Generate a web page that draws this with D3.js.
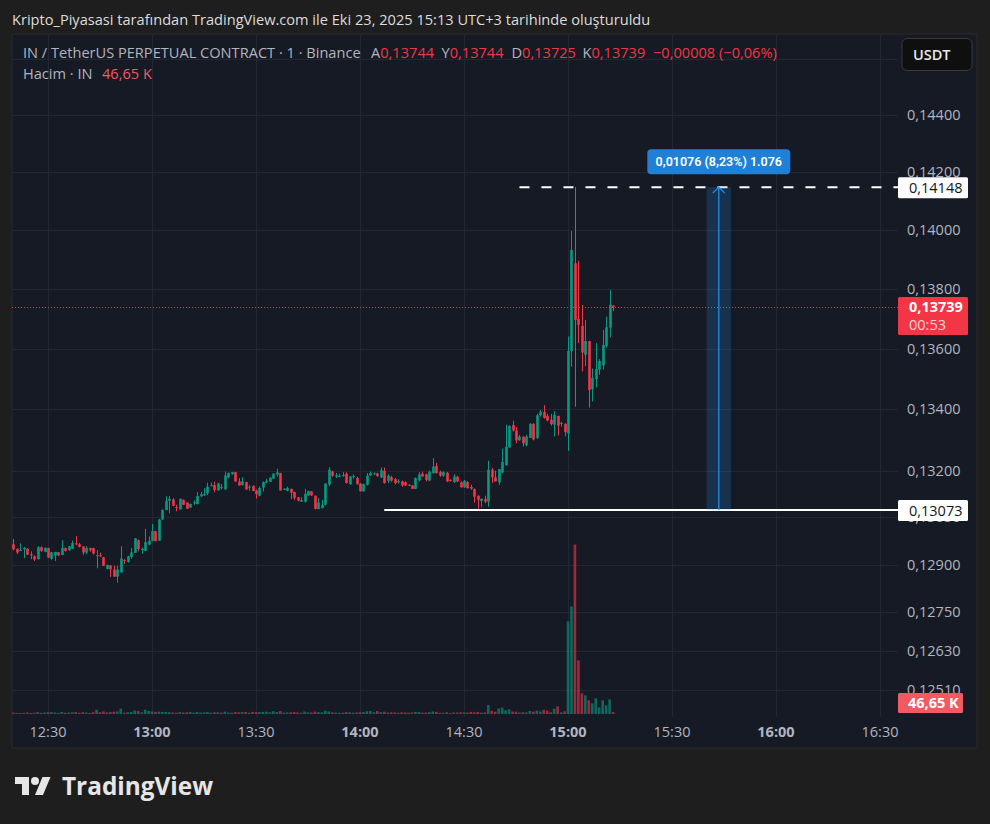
<!DOCTYPE html>
<html><head><meta charset="utf-8">
<script src="https://cdn.jsdelivr.net/npm/d3@7"></script>
<style>
html,body{margin:0;padding:0;background:#1e1e1e;}
svg{display:block;font-family:"Open Sans","Noto Sans",Arial,sans-serif;}
</style>
</head><body>
<svg id="chart" width="990" height="824"></svg>
<script>
// ---------------- DATA ----------------
const firstBarTime = "2025-10-23 12:20";   // 1-minute bars
// [open, high, low, close]
const ohlc = [
[0.12964,0.12981,0.12945,0.12948],[0.12950,0.12951,0.12933,0.12938],[0.12943,0.12967,0.12943,0.12946],[0.12948,0.12955,0.12920,0.12953],
[0.12950,0.12952,0.12931,0.12931],[0.12932,0.12942,0.12917,0.12930],[0.12926,0.12929,0.12911,0.12916],[0.12917,0.12958,0.12916,0.12955],
[0.12955,0.12957,0.12940,0.12943],[0.12940,0.12954,0.12939,0.12953],[0.12952,0.12953,0.12921,0.12922],[0.12918,0.12939,0.12915,0.12939],
[0.12928,0.12940,0.12911,0.12940],[0.12939,0.12939,0.12927,0.12929],[0.12930,0.12977,0.12930,0.12952],[0.12952,0.12954,0.12941,0.12943],
[0.12945,0.12959,0.12944,0.12958],[0.12950,0.12976,0.12950,0.12968],[0.12967,0.12990,0.12961,0.12964],[0.12964,0.12968,0.12954,0.12956],
[0.12957,0.12958,0.12931,0.12938],[0.12938,0.12958,0.12933,0.12952],[0.12952,0.12953,0.12941,0.12945],[0.12952,0.12953,0.12932,0.12935],
[0.12929,0.12946,0.12888,0.12930],[0.12929,0.12938,0.12924,0.12926],[0.12923,0.12924,0.12896,0.12896],[0.12886,0.12899,0.12885,0.12899],
[0.12897,0.12898,0.12861,0.12885],[0.12884,0.12896,0.12861,0.12862],[0.12862,0.12897,0.12843,0.12884],[0.12875,0.12958,0.12875,0.12919],
[0.12914,0.12917,0.12902,0.12912],[0.12908,0.12928,0.12906,0.12926],[0.12924,0.12952,0.12918,0.12938],[0.12937,0.12984,0.12937,0.12983],
[0.12977,0.12979,0.12942,0.12949],[0.12947,0.12954,0.12934,0.12949],[0.12943,0.13013,0.12943,0.12971],[0.12963,0.12989,0.12961,0.12975],
[0.12974,0.13029,0.12974,0.13006],[0.13006,0.13007,0.12974,0.12974],[0.12975,0.13045,0.12975,0.13043],[0.13043,0.13075,0.13042,0.13074],
[0.13073,0.13117,0.13073,0.13103],[0.13103,0.13118,0.13063,0.13109],[0.13107,0.13111,0.13085,0.13087],[0.13083,0.13090,0.13069,0.13080],
[0.13075,0.13110,0.13075,0.13109],[0.13106,0.13107,0.13089,0.13090],[0.13097,0.13098,0.13077,0.13077],[0.13081,0.13093,0.13080,0.13093],
[0.13096,0.13104,0.13090,0.13098],[0.13092,0.13131,0.13092,0.13118],[0.13117,0.13131,0.13115,0.13124],[0.13122,0.13143,0.13118,0.13124],
[0.13126,0.13161,0.13121,0.13148],[0.13151,0.13161,0.13149,0.13153],[0.13153,0.13165,0.13130,0.13138],[0.13136,0.13161,0.13136,0.13158],
[0.13147,0.13156,0.13139,0.13144],[0.13139,0.13197,0.13139,0.13184],[0.13178,0.13194,0.13175,0.13192],[0.13188,0.13196,0.13187,0.13195],
[0.13195,0.13196,0.13164,0.13165],[0.13165,0.13176,0.13152,0.13152],[0.13153,0.13178,0.13152,0.13165],[0.13163,0.13164,0.13139,0.13139],
[0.13147,0.13153,0.13135,0.13148],[0.13151,0.13152,0.13134,0.13134],[0.13136,0.13139,0.13110,0.13124],[0.13119,0.13149,0.13117,0.13144],
[0.13145,0.13165,0.13133,0.13163],[0.13161,0.13173,0.13159,0.13166],[0.13164,0.13178,0.13163,0.13177],[0.13174,0.13191,0.13173,0.13190],
[0.13187,0.13206,0.13181,0.13194],[0.13192,0.13193,0.13136,0.13136],[0.13139,0.13143,0.13138,0.13141],[0.13135,0.13148,0.13133,0.13144],
[0.13141,0.13142,0.13108,0.13129],[0.13131,0.13132,0.13106,0.13112],[0.13114,0.13115,0.13101,0.13103],[0.13100,0.13114,0.13099,0.13105],
[0.13100,0.13141,0.13097,0.13125],[0.13120,0.13135,0.13119,0.13134],[0.13133,0.13134,0.13119,0.13120],[0.13119,0.13120,0.13075,0.13077],
[0.13076,0.13111,0.13076,0.13097],[0.13079,0.13106,0.13079,0.13090],[0.13090,0.13160,0.13088,0.13158],[0.13155,0.13211,0.13150,0.13203],
[0.13197,0.13200,0.13180,0.13183],[0.13181,0.13192,0.13176,0.13185],[0.13180,0.13190,0.13178,0.13184],[0.13186,0.13195,0.13180,0.13183],
[0.13190,0.13195,0.13158,0.13160],[0.13156,0.13181,0.13154,0.13181],[0.13180,0.13188,0.13174,0.13182],[0.13176,0.13180,0.13155,0.13156],
[0.13158,0.13160,0.13133,0.13133],[0.13133,0.13158,0.13132,0.13156],[0.13154,0.13192,0.13152,0.13184],[0.13184,0.13197,0.13183,0.13192],
[0.13190,0.13194,0.13186,0.13191],[0.13191,0.13193,0.13180,0.13182],[0.13178,0.13210,0.13176,0.13202],[0.13199,0.13210,0.13158,0.13160],
[0.13167,0.13188,0.13160,0.13183],[0.13179,0.13183,0.13164,0.13168],[0.13172,0.13176,0.13155,0.13160],[0.13162,0.13172,0.13158,0.13166],
[0.13165,0.13168,0.13148,0.13152],[0.13162,0.13165,0.13150,0.13152],[0.13154,0.13156,0.13150,0.13153],[0.13152,0.13153,0.13140,0.13141],
[0.13141,0.13178,0.13140,0.13176],[0.13168,0.13195,0.13165,0.13188],[0.13190,0.13197,0.13180,0.13181],[0.13188,0.13190,0.13165,0.13170],
[0.13168,0.13200,0.13166,0.13197],[0.13192,0.13240,0.13190,0.13213],[0.13215,0.13225,0.13190,0.13192],[0.13195,0.13200,0.13180,0.13184],
[0.13183,0.13198,0.13180,0.13195],[0.13193,0.13196,0.13163,0.13165],[0.13170,0.13172,0.13165,0.13167],[0.13163,0.13188,0.13160,0.13181],
[0.13180,0.13183,0.13163,0.13165],[0.13162,0.13165,0.13146,0.13146],[0.13146,0.13170,0.13144,0.13167],[0.13163,0.13166,0.13143,0.13143],
[0.13147,0.13154,0.13138,0.13142],[0.13141,0.13142,0.13097,0.13116],[0.13119,0.13120,0.13073,0.13106],[0.13102,0.13111,0.13082,0.13109],
[0.13109,0.13119,0.13095,0.13100],[0.13100,0.13232,0.13084,0.13203],[0.13203,0.13209,0.13160,0.13178],[0.13178,0.13200,0.13165,0.13165],
[0.13162,0.13205,0.13154,0.13205],[0.13194,0.13271,0.13192,0.13228],[0.13217,0.13349,0.13217,0.13277],[0.13275,0.13347,0.13275,0.13345],
[0.13348,0.13362,0.13327,0.13330],[0.13330,0.13341,0.13289,0.13298],[0.13298,0.13316,0.13297,0.13310],[0.13310,0.13311,0.13278,0.13289],
[0.13282,0.13316,0.13278,0.13310],[0.13306,0.13354,0.13306,0.13352],[0.13352,0.13353,0.13298,0.13301],[0.13305,0.13385,0.13303,0.13380],
[0.13380,0.13397,0.13376,0.13391],[0.13391,0.13413,0.13369,0.13371],[0.13378,0.13384,0.13360,0.13363],[0.13365,0.13384,0.13346,0.13351],
[0.13349,0.13393,0.13311,0.13381],[0.13378,0.13378,0.13314,0.13346],[0.13353,0.13359,0.13343,0.13355],[0.13352,0.13353,0.13311,0.13325],
[0.13320,0.13640,0.13264,0.13592],[0.13592,0.13997,0.13540,0.13932],[0.13887,0.14148,0.13408,0.13696],[0.13699,0.13896,0.13618,0.13679],
[0.13676,0.13746,0.13524,0.13587],[0.13579,0.13696,0.13542,0.13625],[0.13625,0.13626,0.13405,0.13463],[0.13466,0.13533,0.13425,0.13502],
[0.13499,0.13618,0.13471,0.13532],[0.13530,0.13565,0.13513,0.13559],[0.13544,0.13662,0.13530,0.13612],[0.13609,0.13707,0.13603,0.13671],
[0.13670,0.13796,0.13637,0.13747],[0.13744,0.13744,0.13725,0.13739]
];
// volume in thousands
const volumes = [
30,25,20,28,35,25,30,45,28,35, 40,45,35,25,50,30,35,40,45,28,
40,35,25,40,100,45,60,40,45,55, 60,125,30,40,45,80,70,40,100,70,
60,50,55,45,50,40,35,30,45,35, 40,50,30,45,35,40,45,30,40,40,
30,55,35,30,45,40,45,50,30,50, 45,45,50,55,40,65,45,70,30,35,
40,45,35,30,60,40,35,55,45,40, 75,60,40,35,30,30,45,40,30,35,
40,45,65,70,40,70,45,55,35,40, 35,30,40,35,30,35,50,45,30,35,
45,60,50,30,30,40,25,35,35,40, 40,35,50,40,50,30,35,210,75,55,
130,150,90,110,60,55,35,40,35,70, 55,80,60,101,78,40,125,181,40,63,
2178,2531,3988,1262,486,439,322,251,369,157,322,204,345,46.65
];
const priceTicks      = [0.146, 0.144, 0.142, 0.140, 0.138, 0.136, 0.134, 0.132, 0.1305, 0.129, 0.1275, 0.1263, 0.1251];
const priceTickLabels = ["0,14600","0,14400","0,14200","0,14000","0,13800","0,13600","0,13400","0,13200","0,13050","0,12900","0,12750","0,12630","0,12510"];
const hiddenPriceLabels = ["0,14600"];   // covered by the currency button
const timeTickLabels  = ["12:30","13:00","13:30","14:00","14:30","15:00","15:30","16:00","16:30"];
const boldTimeTicks   = ["13:00","14:00","15:00","16:00"];

const titleText   = "Kripto_Piyasasi tarafından TradingView.com ile Eki 23, 2025 15:13 UTC+3 tarihinde oluşturuldu";
const symbolText  = "IN / TetherUS PERPETUAL CONTRACT · 1 · Binance";
const ohlcLabels  = ["A","Y","D","K"];
const ohlcValues  = ["0,13744","0,13744","0,13725","0,13739"];
const changeText  = "−0,00008 (−0,06%)";
const volumeTitle = "Hacim · IN";
const volumeValue = "46,65 K";
const currency    = "USDT";

const lastPrice = 0.13739, lastPriceText = "0,13739", countdown = "00:53";
const rangeHigh = 0.14148, rangeHighText = "0,14148";
const rangeLow  = 0.13073, rangeLowText  = "0,13073";
const highLineStart = "14:46", lowLineStart = "14:07";
const measureStart = "15:40", measureEnd = "15:47";
const measureText = "0,01076 (8,23%) 1.076";

// ---------------- SETUP ----------------
const W = 990, H = 824;
const pane = {x0: 12, x1: 898, y0: 34, y1: 717};
const frame = {x0: 12, x1: 977, y0: 34, y1: 748};
const UP = "#089981", DOWN = "#f23645";
const TXT = "#b2b5be";
const FS = 14.6;
const parse = d3.timeParse("%Y-%m-%d %H:%M");
const day = "2025-10-23 ";
const t0 = parse(firstBarTime);
const bars = ohlc.map((d, i) => ({t: d3.timeMinute.offset(t0, i), o: d[0], h: d[1], l: d[2], c: d[3], v: volumes[i]}));

const x = d3.scaleTime().domain([parse(day + "12:20"), parse(day + "16:30")]).range([13.33, 880]);
const y = d3.scaleLog().domain([0.1251, 0.144]).range([690, 115]);
const vy = d3.scaleLinear().domain([0, 4000]).range([714, 544]);

const svg = d3.select("#chart");
svg.append("rect").attr("width", W).attr("height", H).attr("fill", "#1e1e1e");
svg.append("rect").attr("x", frame.x0).attr("y", frame.y0).attr("width", frame.x1 - frame.x0).attr("height", frame.y1 - frame.y0)
  .attr("fill", "#161a25").attr("stroke", "#2b2b2b").attr("stroke-width", 1);

const defs = svg.append("defs");
defs.append("clipPath").attr("id", "paneClip").append("rect")
  .attr("x", pane.x0).attr("y", pane.y0).attr("width", pane.x1 - pane.x0).attr("height", pane.y1 - pane.y0);

const plot = svg.append("g").attr("clip-path", "url(#paneClip)");

// grid
const gridColor = "#232733";
plot.append("g").selectAll("line").data(priceTicks).join("line")
  .attr("x1", pane.x0).attr("x2", pane.x1)
  .attr("y1", d => Math.round(y(d)) + 0.5).attr("y2", d => Math.round(y(d)) + 0.5)
  .attr("stroke", gridColor).attr("stroke-width", 1);
const timeTickDates = timeTickLabels.map(s => parse(day + s));
plot.append("g").selectAll("line").data(timeTickDates).join("line")
  .attr("x1", d => Math.round(x(d)) + 0.5).attr("x2", d => Math.round(x(d)) + 0.5)
  .attr("y1", pane.y0).attr("y2", pane.y1)
  .attr("stroke", gridColor).attr("stroke-width", 1);

// volume
const bw = 2.6;
plot.append("g").selectAll("rect").data(bars).join("rect")
  .attr("x", d => x(d.t) - bw / 2).attr("width", bw)
  .attr("y", d => Math.min(vy(d.v), 713)).attr("height", d => Math.max(1, 714 - vy(d.v)))
  .attr("fill", d => d.c >= d.o ? UP : DOWN).attr("fill-opacity", 0.62);

// candles
const cg = plot.append("g");
cg.selectAll("line").data(bars).join("line")
  .attr("x1", d => Math.round(x(d.t)) + 0.5).attr("x2", d => Math.round(x(d.t)) + 0.5)
  .attr("y1", d => y(d.h)).attr("y2", d => y(d.l))
  .attr("stroke", d => d.c >= d.o ? UP : DOWN).attr("stroke-width", 1);
cg.selectAll("rect").data(bars).join("rect")
  .attr("x", d => Math.round(x(d.t)) + 0.5 - bw / 2).attr("width", bw)
  .attr("y", d => y(Math.max(d.o, d.c)))
  .attr("height", d => Math.max(1, y(Math.min(d.o, d.c)) - y(Math.max(d.o, d.c))))
  .attr("fill", d => d.c >= d.o ? UP : DOWN);

// last price dotted line
plot.append("line").attr("x1", pane.x0).attr("x2", pane.x1)
  .attr("y1", Math.round(y(lastPrice)) + 0.5).attr("y2", Math.round(y(lastPrice)) + 0.5)
  .attr("stroke", DOWN).attr("stroke-width", 1).attr("stroke-dasharray", "1,2");

// horizontal drawn lines
plot.append("line").attr("x1", x(parse(day + lowLineStart))).attr("x2", pane.x1)
  .attr("y1", y(rangeLow)).attr("y2", y(rangeLow)).attr("stroke", "#ffffff").attr("stroke-width", 2);
plot.append("line").attr("x1", x(parse(day + highLineStart))).attr("x2", pane.x1)
  .attr("y1", y(rangeHigh)).attr("y2", y(rangeHigh)).attr("stroke", "#ffffff").attr("stroke-width", 2)
  .attr("stroke-dasharray", "10,12");

// price range measurement
const mx0 = x(parse(day + measureStart)), mx1 = x(parse(day + measureEnd)), mxc = (mx0 + mx1) / 2;
plot.append("rect").attr("x", mx0).attr("width", mx1 - mx0).attr("y", y(rangeHigh)).attr("height", y(rangeLow) - y(rangeHigh))
  .attr("fill", "#2196f3").attr("fill-opacity", 0.2);
plot.append("line").attr("x1", mxc).attr("x2", mxc).attr("y1", y(rangeLow)).attr("y2", y(rangeHigh))
  .attr("stroke", "#2196f3").attr("stroke-width", 1.2);
plot.append("path").attr("d", `M${mxc - 6},${y(rangeHigh) + 6} L${mxc},${y(rangeHigh)} L${mxc + 6},${y(rangeHigh) + 6}`)
  .attr("fill", "none").attr("stroke", "#2196f3").attr("stroke-width", 1.2);
const mlw = 143, mlh = 25;
svg.append("rect").attr("x", mxc - mlw / 2).attr("y", y(rangeHigh) - 13 - mlh).attr("width", mlw).attr("height", mlh)
  .attr("rx", 4).attr("fill", "#1f80d6");
svg.append("text").attr("x", mxc).attr("y", y(rangeHigh) - 13 - mlh / 2 + 4.5).attr("text-anchor", "middle")
  .attr("font-family", "Roboto, sans-serif")
  .attr("fill", "#ffffff").attr("font-size", 12.5).attr("font-weight", 600).text(measureText);

// price axis labels
svg.append("g").selectAll("text")
  .data(priceTicks.map((p, i) => ({p, label: priceTickLabels[i]})).filter(d => !hiddenPriceLabels.includes(d.label)))
  .join("text")
  .attr("x", 907).attr("y", d => y(d.p) + 5)
  .attr("fill", TXT).attr("font-size", 14.5).text(d => d.label);

// price label boxes
function whiteBox(p, label) {
  const yy = y(p);
  svg.append("rect").attr("x", 898).attr("y", yy - 10).attr("width", 70).attr("height", 21).attr("rx", 1.5).attr("fill", "#ffffff");
  svg.append("text").attr("x", 909).attr("y", yy + 5.5).attr("fill", "#131722").attr("font-size", 14.5).text(label);
}
whiteBox(rangeHigh, rangeHighText);
whiteBox(rangeLow, rangeLowText);
{
  const yy = y(lastPrice);
  svg.append("rect").attr("x", 898).attr("y", yy - 10).attr("width", 70).attr("height", 38).attr("rx", 1.5).attr("fill", DOWN);
  svg.append("text").attr("x", 909).attr("y", yy + 5).attr("fill", "#ffffff").attr("font-size", 14.5).attr("font-weight", 700).text(lastPriceText);
  svg.append("text").attr("x", 909).attr("y", yy + 22.5).attr("fill", "#ffffff").attr("fill-opacity", 0.8).attr("font-size", 14.5).text(countdown);
}
svg.append("rect").attr("x", 898).attr("y", 693).attr("width", 65).attr("height", 20).attr("rx", 1.5).attr("fill", "#f05a62");
svg.append("text").attr("x", 908).attr("y", 708).attr("fill", "#ffffff").attr("font-size", 14.5).attr("font-weight", 700).text(volumeValue);

// time axis labels
svg.append("g").selectAll("text").data(timeTickLabels).join("text")
  .attr("x", d => x(parse(day + d))).attr("y", 737).attr("text-anchor", "middle")
  .attr("fill", TXT).attr("font-size", 14.5)
  .attr("font-weight", d => boldTimeTicks.includes(d) ? 700 : 400).text(d => d);

// USDT button
svg.append("rect").attr("x", 902).attr("y", 38.5).attr("width", 70).attr("height", 32).attr("rx", 5)
  .attr("fill", "#0f0f0f").attr("stroke", "#3a3a3a").attr("stroke-width", 1);
svg.append("text").attr("x", 913).attr("y", 60).attr("fill", "#e8e8e8").attr("font-size", 14.5).attr("font-weight", 600).text(currency);

// title
svg.append("text").attr("x", 12).attr("y", 25).attr("fill", "#dcdcdc").attr("font-size", FS).text(titleText);

// legend
const lg = svg.append("g").attr("font-size", FS);
lg.append("text").attr("x", 23).attr("y", 58).attr("fill", TXT).text(symbolText);
const ohlcX = [371, 441.5, 511.5, 582.5];
ohlcLabels.forEach((l, i) => {
  const t = lg.append("text").attr("x", ohlcX[i]).attr("y", 58);
  t.append("tspan").attr("fill", TXT).text(l);
  t.append("tspan").attr("fill", DOWN).text(ohlcValues[i]);
});
lg.append("text").attr("x", 653).attr("y", 58).attr("fill", DOWN).text(changeText);
lg.append("text").attr("x", 23).attr("y", 79).attr("fill", TXT).text(volumeTitle);
lg.append("text").attr("x", 102).attr("y", 79).attr("fill", "#f05a62").text(volumeValue);

// TradingView logo
const logo = svg.append("g").attr("transform", "translate(15,773)").attr("fill", "#e6e6e6");
logo.append("path").attr("d", "M14 22H7V11H0V4h14v18zM28 22h-8l7.5-18h8L28 22z");
logo.append("circle").attr("cx", 20).attr("cy", 8).attr("r", 4);
svg.append("text").attr("x", 62).attr("y", 795).attr("fill", "#e6e6e6").attr("font-size", 25).attr("font-weight", 700)
  .attr("textLength", 151).attr("lengthAdjust", "spacingAndGlyphs").text("TradingView");
</script>
</body></html>
